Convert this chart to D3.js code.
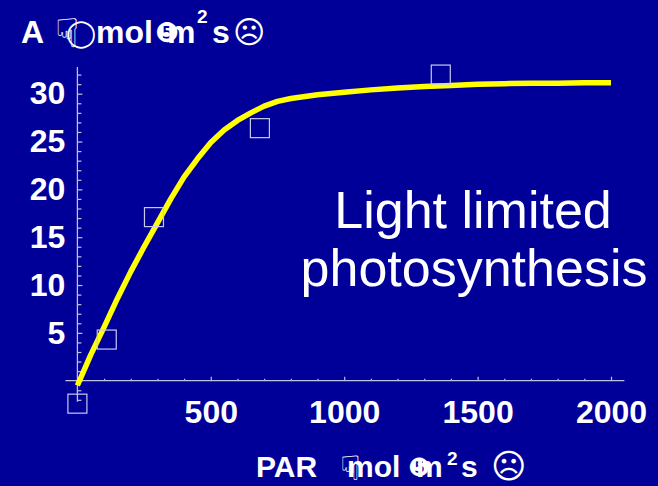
<!DOCTYPE html>
<html><head><meta charset="utf-8">
<script src="https://cdn.jsdelivr.net/npm/d3@7"></script>
<style>
html,body{margin:0;padding:0;background:#000099;}
svg{display:block;}
text{font-family:"Liberation Sans",Arial,sans-serif;fill:#fff;}
</style></head>
<body>
<script>
// ---- data ----
const parTickLabels = [500, 1000, 1500, 2000];
const aTickLabels = [5, 10, 15, 20, 25, 30];
const obsPAR = [0, 110, 287, 684, 1362];
const obsA = [-2.4, 4.3, 17.1, 26.4, 32.0];
const curvePAR = [0, 50, 100, 150, 200, 250, 300, 350, 400, 450, 500, 550, 600, 650, 700, 750, 800, 900, 1000, 1100, 1200, 1300, 1400, 1500, 1600, 1700, 1800, 1900, 2000];
const curveA = [-0.5, 2.7, 5.6, 8.6, 11.4, 14.0, 16.5, 19.0, 21.3, 23.2, 24.9, 26.2, 27.2, 28.0, 28.7, 29.2, 29.5, 29.9, 30.15, 30.4, 30.6, 30.75, 30.85, 31.0, 31.05, 31.1, 31.1, 31.15, 31.15];
const annotation = ["Light limited", "photosynthesis"];

const W = 658, H = 486;
const svg = d3.select("body").append("svg").attr("width", W).attr("height", H);
svg.append("rect").attr("width", W).attr("height", H).attr("fill", "#000099");

const x = d3.scaleLinear().domain([0, 2000]).range([77.4, 611]);
const y = d3.scaleLinear().domain([0, 30]).range([380.7, 93.7]);
const axisCol = "#c0c0e4";

// axis lines
svg.append("line").attr("x1", x(-45)).attr("x2", x(2050)).attr("y1", y(0)).attr("y2", y(0))
  .attr("stroke", axisCol).attr("stroke-width", 1.3);
svg.append("line").attr("x1", x(0)).attr("x2", x(0)).attr("y1", y(-2.2)).attr("y2", y(32.8))
  .attr("stroke", axisCol).attr("stroke-width", 1.3);

// x minor ticks
const xMinor = svg.append("g").attr("transform", `translate(0,${y(0)})`)
  .call(d3.axisBottom(x).tickValues(d3.range(100, 2001, 100).filter(v => v % 500)).tickSize(-2).tickFormat(""));
// x major ticks + labels
const xMajor = svg.append("g").attr("transform", `translate(0,${y(0)})`)
  .call(d3.axisBottom(x).tickValues(parTickLabels).tickSize(-4).tickPadding(19.5).tickFormat(d3.format("d")));
// y minor ticks
const yMinor = svg.append("g").attr("transform", `translate(${x(0)},0)`)
  .call(d3.axisLeft(y).tickValues(d3.range(-2, 33, 1).filter(v => v % 5)).tickSize(-4).tickFormat(""));
const yMajor = svg.append("g").attr("transform", `translate(${x(0)},0)`)
  .call(d3.axisLeft(y).tickValues([0].concat(aTickLabels)).tickSize(-5).tickPadding(12)
    .tickFormat(d => d === 0 ? "" : d));
[xMinor, xMajor, yMinor, yMajor].forEach(g => {
  g.select(".domain").remove();
  g.selectAll(".tick line").attr("stroke", axisCol).attr("stroke-width", 1.2);
  g.selectAll(".tick text").attr("fill", "#fff").attr("font-size", 32).attr("font-weight", "bold")
    .attr("font-family", "'Liberation Sans', Arial, sans-serif");
});

// curve
const line = d3.line().x((d, i) => x(curvePAR[i])).y((d, i) => y(curveA[i]));
svg.append("path").datum(curveA).attr("d", line).attr("fill", "none")
  .attr("stroke", "#ffff00").attr("stroke-width", 5.5).attr("stroke-linejoin", "round");

// observed squares
const sq = 19;
svg.append("g").selectAll("rect").data(obsPAR).join("rect")
  .attr("x", (d) => x(d) - sq / 2).attr("y", (d, i) => y(obsA[i]) - sq / 2)
  .attr("width", sq).attr("height", sq).attr("fill", "none")
  .attr("stroke", "#c8c8f0").attr("stroke-width", 1.2);

// annotation
svg.append("text").attr("x", 473).attr("y", 228).attr("text-anchor", "middle")
  .attr("font-size", 52).text(annotation[0]);
svg.append("text").attr("x", 474).attr("y", 286).attr("text-anchor", "middle")
  .attr("font-size", 52).text(annotation[1]);

// axis titles (symbol-font glyphs rendered as in the original)
function piece(g, txt, px, py, size, opts = {}) {
  return g.append("text").attr("x", px).attr("y", py).attr("font-size", size)
    .attr("font-weight", opts.normal ? "normal" : "bold")
    .attr("font-family", opts.sym ? "'DejaVu Sans', sans-serif" : "'Liberation Sans', Arial, sans-serif")
    .text(txt);
}
const yt = svg.append("g");
piece(yt, "A", 21, 43, 32);
piece(yt, "☟", 55, 47, 40, {sym: true, normal: true});
piece(yt, "◯", 66, 42, 27, {sym: true, normal: true});
piece(yt, "mol", 96, 43, 32);
piece(yt, "❺", 155, 42, 27, {sym: true, normal: true});
piece(yt, "m", 167, 43, 32);
piece(yt, "2", 197, 23, 19);
piece(yt, "s", 212, 43, 32);
piece(yt, "☹", 233, 43, 31, {sym: true, normal: true});

const xt = svg.append("g");
piece(xt, "PAR", 256, 477, 30);
piece(xt, "☟", 340, 480, 34, {sym: true, normal: true});
piece(xt, "mol", 347, 477, 30);
piece(xt, "❺", 408, 476, 25, {sym: true, normal: true});
piece(xt, "m", 416, 477, 30);
piece(xt, "2", 447, 465, 19);
piece(xt, "s", 461, 477, 30);
piece(xt, "☹", 491, 478, 34, {sym: true, normal: true});
</script>
</body></html>
